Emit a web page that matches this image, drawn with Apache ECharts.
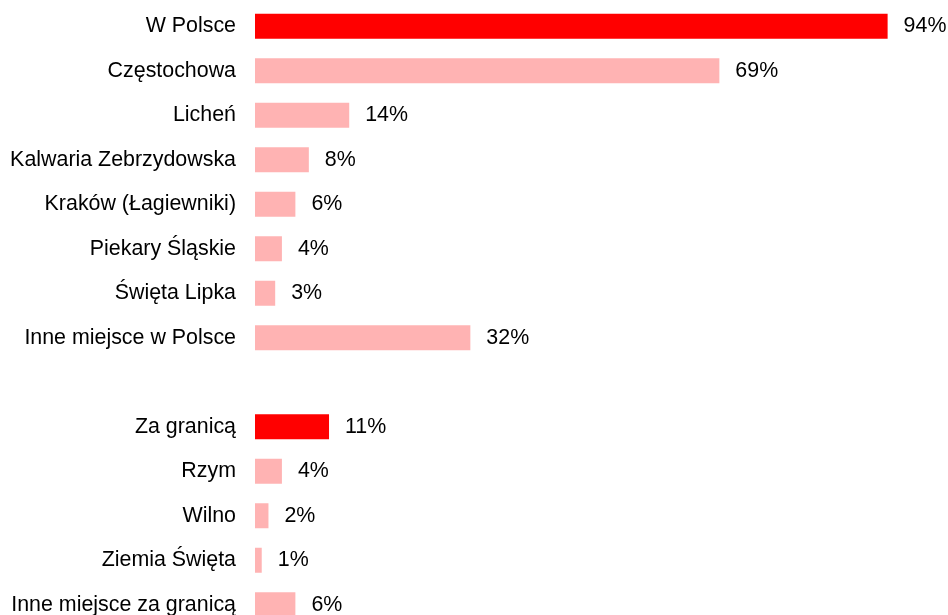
<!DOCTYPE html>
<html>
<head>
<meta charset="utf-8">
<script src="https://cdn.jsdelivr.net/npm/echarts@6/dist/echarts.min.js"></script>
<style>
  html, body { margin: 0; padding: 0; background: #fff; }
  #chart { width: 948px; height: 615px; }
</style>
</head>
<body>
<div id="chart"></div>
<script>
// categories top to bottom, '' is the spacer row between the two groups
const categories = [
  'W Polsce', 'Częstochowa', 'Licheń', 'Kalwaria Zebrzydowska', 'Kraków (Łagiewniki)',
  'Piekary Śląskie', 'Święta Lipka', 'Inne miejsce w Polsce', '',
  'Za granicą', 'Rzym', 'Wilno', 'Ziemia Święta', 'Inne miejsce za granicą'
];
const values = [94, 69, 14, 8, 6, 4, 3, 32, null, 11, 4, 2, 1, 6];
// rows that are group totals get the strong colour
const totals = ['W Polsce', 'Za granicą'];

const strong = '#ff0000';
const light = '#ffb3b3';

const chart = echarts.init(document.getElementById('chart'));

chart.setOption({
  animation: false,
  grid: { left: 255, right: 20, top: 4, height: 623, outerBoundsMode: 'none' },
  xAxis: {
    type: 'value',
    min: 0,
    max: 100,
    show: false
  },
  yAxis: {
    type: 'category',
    inverse: true,
    data: categories,
    axisLine: { show: false },
    axisTick: { show: false },
    axisLabel: {
      margin: 19,
      fontFamily: 'Liberation Sans, Arial, sans-serif',
      fontSize: 21.4,
      color: '#000'
    }
  },
  series: [
    {
      type: 'bar',
      barWidth: 25,
      data: values.map((v, i) => ({
        value: v,
        itemStyle: { color: totals.includes(categories[i]) ? strong : light }
      })),
      label: {
        show: true,
        position: 'right',
        distance: 16,
        formatter: p => (p.value == null ? '' : p.value + '%'),
        fontFamily: 'Liberation Sans, Arial, sans-serif',
        fontSize: 21.4,
        color: '#000'
      }
    }
  ]
});
</script>
</body>
</html>
